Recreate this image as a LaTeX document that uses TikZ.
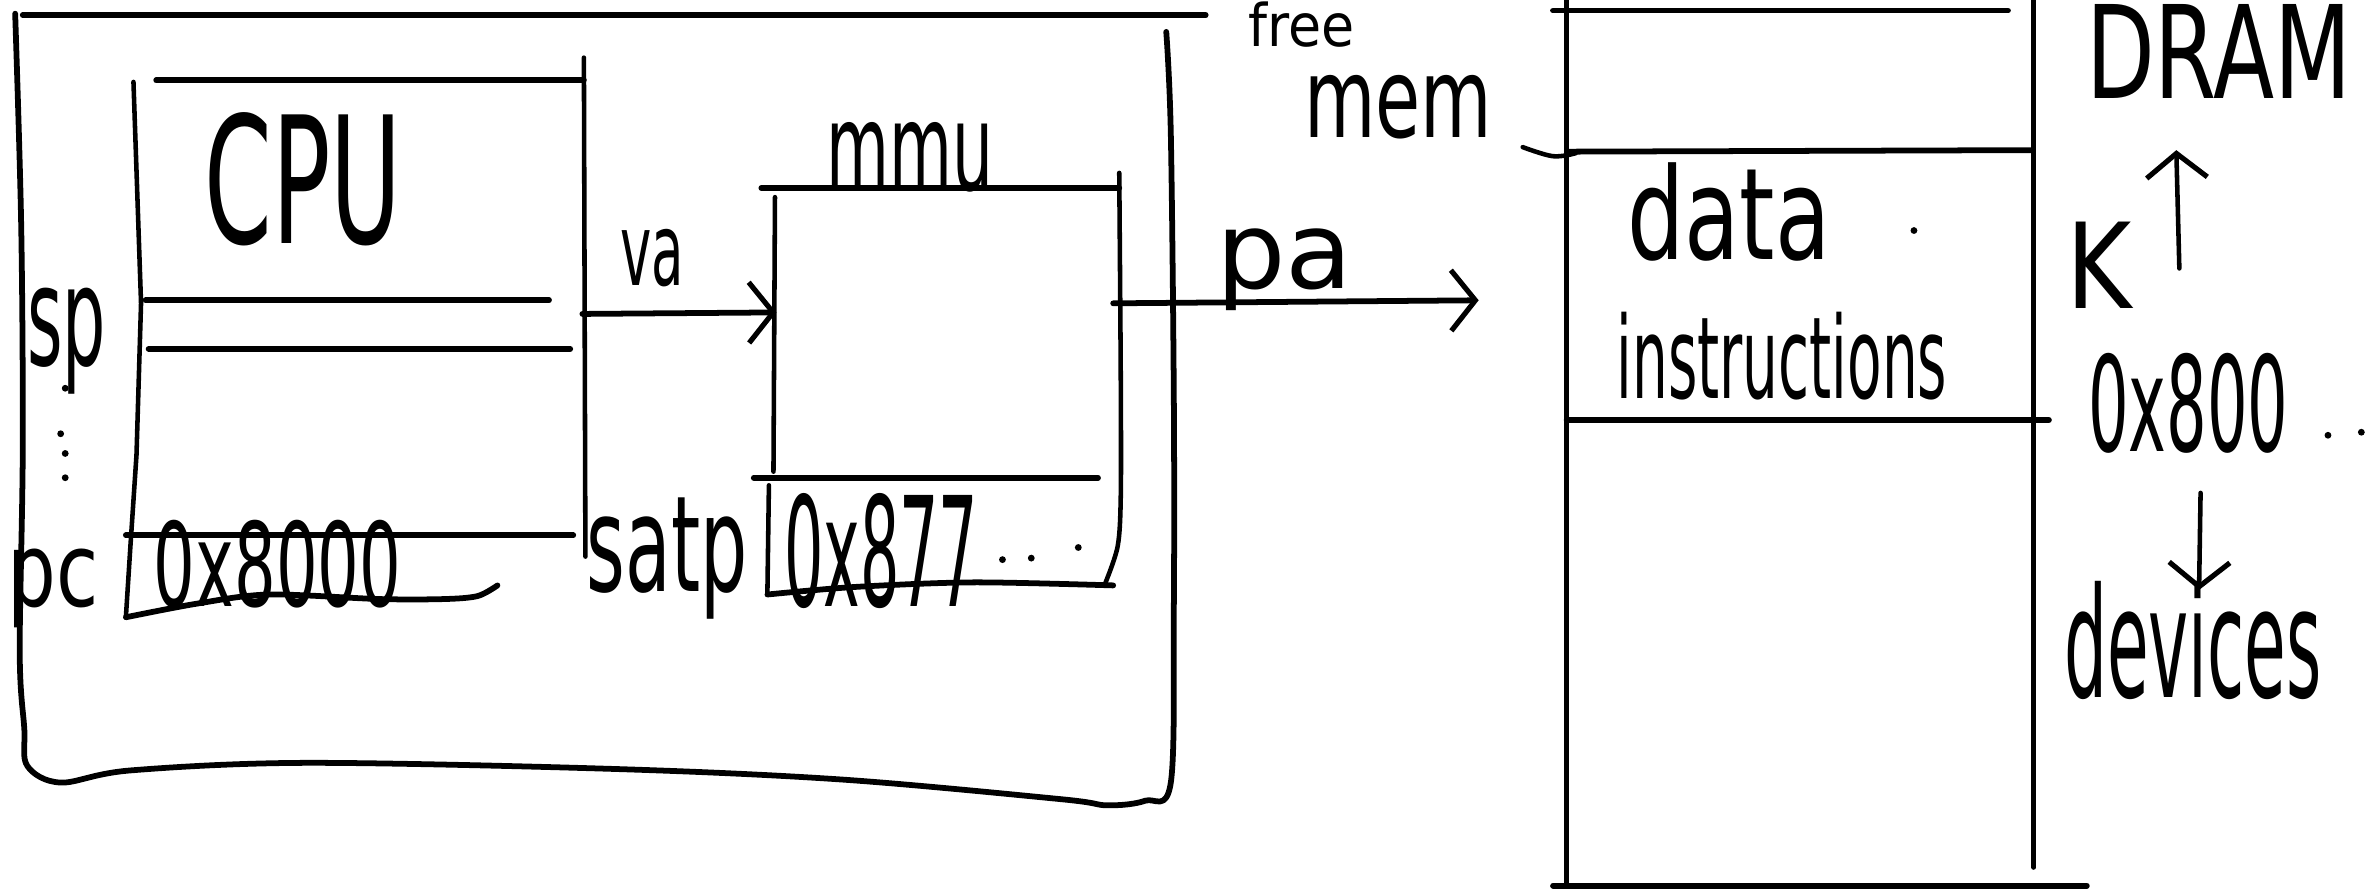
\documentclass[tikz,border=0pt]{standalone}
\usepackage{fontspec}
\setmainfont{DejaVu Sans}
\usetikzlibrary{arrows.meta}
\newcommand{\hw}[3]{\resizebox*{#1}{#2}{#3}}
\begin{document}
\begin{tikzpicture}[x=1pt,y=-1pt,
  thickline/.style={line width=3.8pt, line cap=round, line join=round},
  thinline/.style={line width=3pt, line cap=round, line join=round},
  txt/.style={inner sep=0pt, outer sep=0pt},
  barb/.style={-{Straight Barb[length=16pt,width=40pt,line width=3.4pt]}},
  dotmark/.style={fill=black, circle, inner sep=0pt, minimum size=4.5pt}]
\useasboundingbox (0,0) rectangle (1568,586);

% top line
\draw[thickline] (15,10) -- (795,10);

% outer box
\draw[thickline] plot[smooth, tension=0.55] coordinates {(10,9) (14,150) (15,297) (13,430) (16,480) (18,505) (40,516) (86,508) (202,503) (404,507) (555,514) (700,527) (730,531) (755,528) (772,516) (774,400) (774,264) (772,88) (769,21)};

% CPU box
\draw[thinline] (88,54) -- (93,200) -- (90,300) -- (86,360) -- (83,407);
\draw[thickline] plot[smooth, tension=0.5] coordinates {(83,407) (130,398) (177,392) (250,395) (293,395) (315,393) (328,386)};
\draw[thickline] (103,53) -- (385,53);
\draw[thinline] (385,38) -- (386,367);
\draw[thickline] (96,198) -- (362,198);
\draw[thickline] (98,230) -- (376,230);
\draw[thickline] (83,353) -- (378,353);

% MMU box
\draw[thickline] (502,124) -- (738,124);
\draw[thinline] (511,130) -- (510,311);
\draw[thinline] plot[smooth, tension=0.5] coordinates {(738,114) (739,250) (739,327) (737,360) (729,384)};
\draw[thickline] (497,315) -- (724,315);
\draw[thinline] (507,320) -- (506,391);
\draw[thickline] plot[smooth, tension=0.5] coordinates {(506,392) (564,387) (642,384) (734,386)};

% memory column
\draw[thinline] (1033,0) -- (1033,586);
\draw[thinline] (1341,0) -- (1341,572);
\draw[thickline] (1024,7) -- (1324,7);
\draw[thickline] (1034,100) -- (1339,99);
\draw[thinline] plot[smooth, tension=0.6] coordinates {(1004,97) (1024,103) (1039,101)};
\draw[thickline] (1033,277) -- (1351,277);
\draw[thickline] (1024,584) -- (1376,584);

% arrows
\coordinate (vaS) at (384,207);
\coordinate (vaE) at (512,206);
\coordinate (paS) at (734,200);
\coordinate (paE) at (975,198);
\coordinate (kS) at (1437,177);
\coordinate (kE) at (1435,99);
\coordinate (dS) at (1451,325);
\coordinate (dE) at (1450,389);
\draw[thickline, barb] (vaS) -- (vaE);
\draw[thickline, barb] (paS) -- (paE);
\draw[thinline, barb] (kS) -- (kE);
\draw[thinline, barb] (dS) -- (dE);

% texts
\node[txt] (cpu) at (200,118) {\hw{130pt}{88pt}{CPU}};
\node[txt] (va) at (430,170) {\hw{42pt}{38pt}{va}};
\node[txt] (mmu) at (600,104) {\hw{110pt}{46pt}{mmu}};
\node[txt] (pa) at (847,178) {\hw{90pt}{54pt}{pa}};
\node[txt] (sp) at (44,225) {\hw{52pt}{70pt}{sp}};
\node[txt] (pc) at (35,388) {\hw{60pt}{52pt}{pc}};
\node[txt] (pcval) at (183,372) {\hw{163pt}{58pt}{0x8000}};
\node[txt] (satp) at (440,368) {\hw{106pt}{80pt}{satp}};
\node[txt] (satpval) at (581,363) {\hw{128pt}{76pt}{0x877}};
\node[txt] (free) at (858,16) {\hw{70pt}{30pt}{free}};
\node[txt] (mem) at (922,71) {\hw{124pt}{42pt}{mem}};
\node[txt] (data) at (1140,140) {\hw{134pt}{65pt}{data}};
\node[txt] (instr) at (1175,235) {\hw{218pt}{58pt}{instructions}};
\node[txt] (dram) at (1463,34) {\hw{175pt}{62pt}{DRAM}};
\node[txt] (k) at (1384,175) {\hw{43pt}{57pt}{K}};
\node[txt] (base) at (1443,266) {\hw{132pt}{66pt}{0x800}};
\node[txt] (dev) at (1446,422) {\hw{170pt}{78pt}{devices}};

% dots
\node[dotmark] (d1) at (661,369) {};
\node[dotmark] (d2) at (680,368) {};
\node[dotmark] (d3) at (711,361) {};
\node[dotmark] (d4) at (1262,152) {};
\node[dotmark] (d5) at (1535,287) {};
\node[dotmark] (d6) at (1557,285) {};
\node[dotmark] (e1) at (43,256) {};
\node[dotmark] (e2) at (40,286) {};
\node[dotmark] (e3) at (43,299) {};
\node[dotmark] (e4) at (43,315) {};
\end{tikzpicture}
\end{document}
